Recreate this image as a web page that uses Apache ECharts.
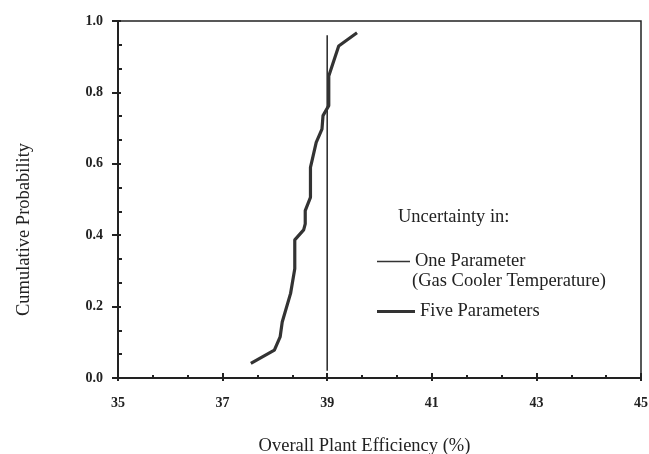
<!DOCTYPE html>
<html>
<head>
<meta charset="utf-8">
<script src="https://cdn.jsdelivr.net/npm/echarts@6/dist/echarts.min.js"></script>
<style>html,body{margin:0;padding:0;background:#fff;}#c{width:649px;height:454px;}</style>
</head>
<body>
<div id="c"></div>
<script>
// Five-parameter uncertainty CDF
var fiveX = [37.54, 37.99, 38.10, 38.14, 38.30, 38.38, 38.38, 38.55, 38.58, 38.58, 38.68, 38.68, 38.71, 38.79, 38.90, 38.92, 39.03, 39.03, 39.22, 39.57];
var fiveY = [0.041, 0.078, 0.115, 0.157, 0.237, 0.306, 0.387, 0.415, 0.432, 0.469, 0.506, 0.590, 0.609, 0.660, 0.697, 0.735, 0.763, 0.846, 0.930, 0.967];
// One-parameter (Gas Cooler Temperature) line
var oneX = [39, 39];
var oneY = [0.02, 0.96];
var xTicks = [35, 37, 39, 41, 43, 45];
var yTicks = [0.0, 0.2, 0.4, 0.6, 0.8, 1.0];
var seriesNames = ['One Parameter', 'Five Parameters'];
var legendTitle = 'Uncertainty in:';
var legendSub = '(Gas Cooler Temperature)';

function zip(a, b) { return a.map(function (v, i) { return [v, b[i]]; }); }

var serif = 'Liberation Serif';
var ink = '#222';
var chart = echarts.init(document.getElementById('c'), null, {renderer: 'canvas'});
var xBase = {
  type: 'value', min: xTicks[0], max: xTicks[xTicks.length - 1], interval: 2,
  splitLine: {show: false}
};
var yBase = {
  type: 'value', min: yTicks[0], max: yTicks[yTicks.length - 1], interval: 0.2,
  splitLine: {show: false}
};
chart.setOption({
  animation: false,
  backgroundColor: '#fff',
  grid: {left: 118, right: 8, top: 21, bottom: 76, containLabel: false, outerBoundsMode: 'none',
    show: true, borderColor: ink, borderWidth: 1.5, backgroundColor: 'transparent'},
  xAxis: [
    Object.assign({}, xBase, {
      position: 'bottom',
      name: 'Overall Plant Efficiency (%)', nameLocation: 'middle', nameGap: 59,
      nameTextStyle: {fontFamily: serif, fontSize: 18.5, color: ink, padding: [0, 30, 0, 0]},
      axisLine: {show: true, lineStyle: {color: ink, width: 2}},
      axisTick: {show: true, inside: true, length: 5, lineStyle: {color: ink, width: 2}},
      minorTick: {show: true, splitNumber: 3, length: 3, lineStyle: {color: ink, width: 2}},
      axisLabel: {margin: 18, fontFamily: serif, fontWeight: 'bold', fontSize: 14, color: ink,
        formatter: function (v) { return xTicks.indexOf(v) >= 0 ? String(v) : ''; }}
    }),
    Object.assign({}, xBase, {
      position: 'bottom',
      axisLine: {show: false},
      axisTick: {show: true, inside: false, length: 3, lineStyle: {color: ink, width: 2}},
      axisLabel: {show: false}
    })
  ],
  yAxis: [
    Object.assign({}, yBase, {
      position: 'left',
      name: 'Cumulative Probability', nameLocation: 'middle', nameGap: 84,
      nameTextStyle: {fontFamily: serif, fontSize: 18.5, color: ink, padding: [0, 60, 0, 0]},
      axisLine: {show: true, lineStyle: {color: ink, width: 2}},
      axisTick: {show: true, inside: true, length: 3, lineStyle: {color: ink, width: 2}},
      minorTick: {show: true, splitNumber: 3, length: 4, lineStyle: {color: ink, width: 2}},
      axisLabel: {margin: 15, fontFamily: serif, fontWeight: 'bold', fontSize: 14, color: ink,
        formatter: function (v) { return v.toFixed(1); }}
    }),
    Object.assign({}, yBase, {
      position: 'left',
      axisLine: {show: false},
      axisTick: {show: true, inside: false, length: 6, lineStyle: {color: ink, width: 2}},
      axisLabel: {show: false}
    })
  ],
  legend: [
    {
      data: [{name: seriesNames[0], icon: 'rect'}], orient: 'vertical', left: 372, top: 247,
      itemWidth: 33, itemHeight: 1.5, itemGap: 0,
      textStyle: {fontFamily: serif, fontSize: 18.5, color: ink}
    },
    {
      data: [{name: seriesNames[1], icon: 'rect'}], orient: 'vertical', left: 372, top: 297,
      itemWidth: 38, itemHeight: 3, itemGap: 0,
      textStyle: {fontFamily: serif, fontSize: 18.5, color: ink}
    }
  ],
  graphic: [
    {type: 'text', left: 398, top: 208, style: {text: legendTitle, font: '18.5px "Liberation Serif"', fill: ink}},
    {type: 'text', left: 412, top: 272, style: {text: legendSub, font: '18.5px "Liberation Serif"', fill: ink}}
  ],
  series: [
    {
      name: seriesNames[0], type: 'line', data: zip(oneX, oneY), symbol: 'none',
      lineStyle: {color: '#333', width: 1.6}, itemStyle: {color: '#333'}, z: 3
    },
    {
      name: seriesNames[1], type: 'line', data: zip(fiveX, fiveY), symbol: 'none',
      lineStyle: {color: '#333', width: 3.2}, itemStyle: {color: '#333'}, z: 4
    }
  ]
});
</script>
</body>
</html>
